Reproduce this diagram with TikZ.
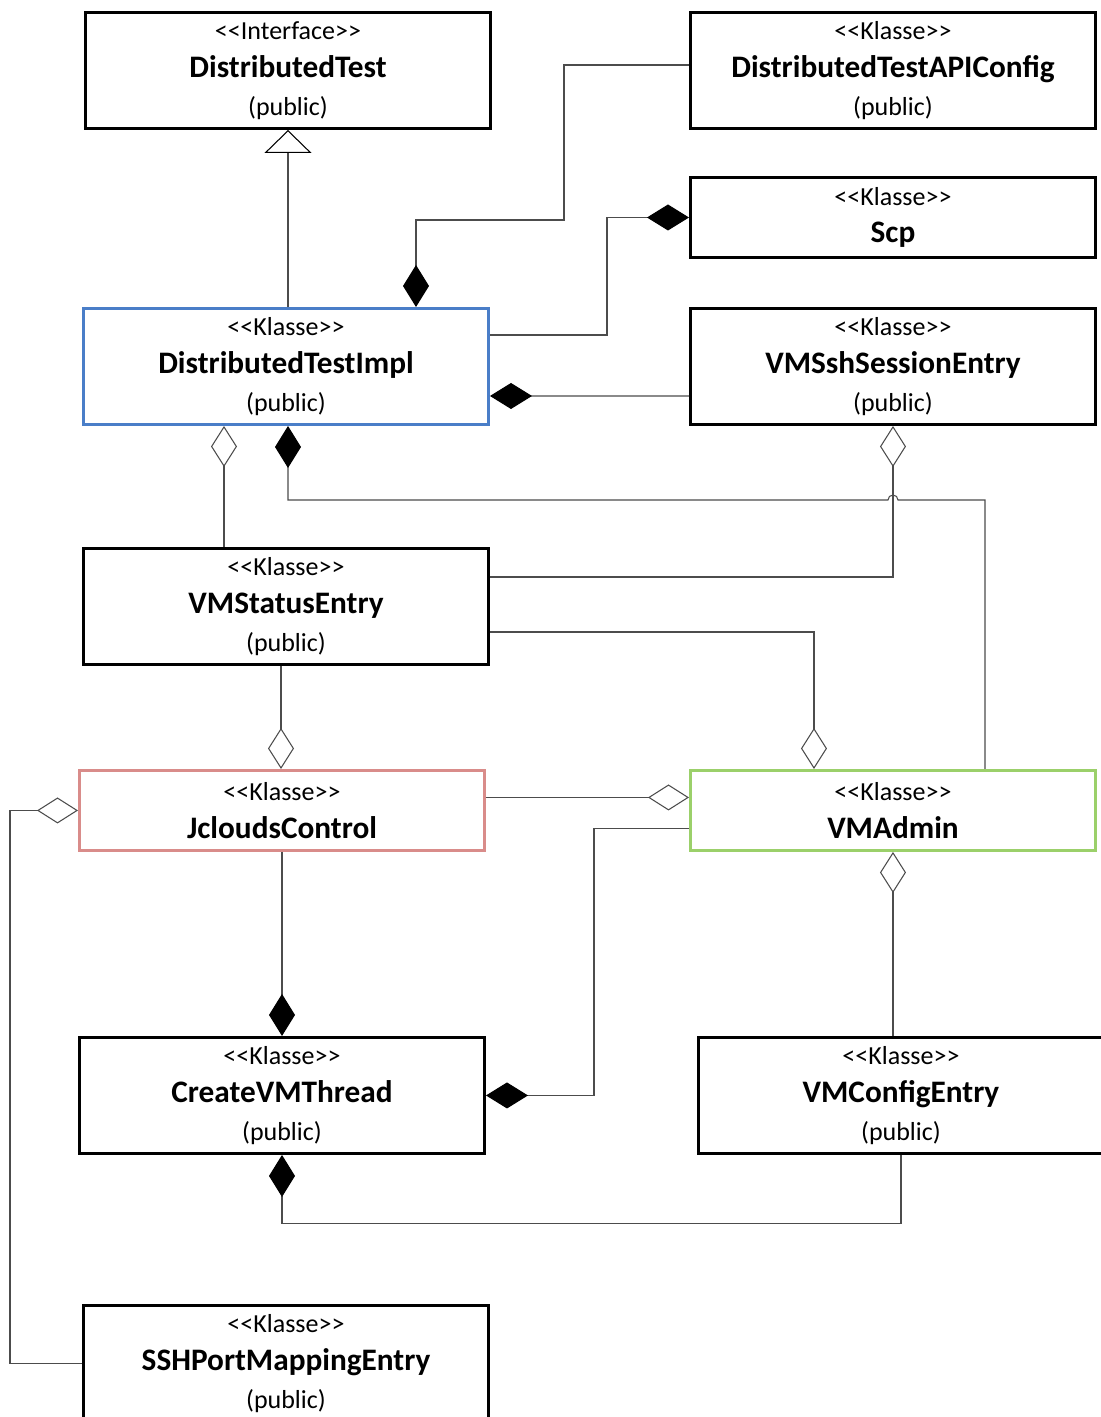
\documentclass[tikz,border=0pt]{standalone}
\usepackage{fontspec}
\newfontfamily\umlfont{Carlito}
\usepackage{tikz}
\usetikzlibrary{arrows.meta}
\usetikzlibrary{positioning}
\usetikzlibrary{calc}

\definecolor{implblue}{RGB}{74,126,200}
\definecolor{ctrlred}{RGB}{217,140,138}
\definecolor{admingreen}{RGB}{155,208,106}

\newcommand{\stereo}[1]{{\fontsize{14.8}{21.5}\selectfont <<#1>>}}
\newcommand{\cname}[1]{{\fontsize{17.8}{21.5}\selectfont\bfseries #1}}
\newcommand{\vis}{{\fontsize{14.8}{21.5}\selectfont (public)}}

\begin{document}
\begin{tikzpicture}
			\tikzstyle{cls}=[draw,line width=1.7pt,minimum width=8.1cm,minimum height=2.32cm,inner sep=0pt,align=center,font=\umlfont\fontsize{14.8}{21.5}\selectfont]
			\tikzstyle{short}=[cls,minimum height=1.6cm]
			\tikzstyle{conn}=[draw=black!70,line width=0.6pt]
			\tikzstyle{comp}=[conn,-{Diamond[length=0.84cm,width=0.52cm,color=black]}]
			\tikzstyle{agg}=[conn,-{Diamond[open,length=0.82cm,width=0.52cm,fill=white]}]
			\tikzstyle{gen}=[conn,-{Triangle[open,length=0.46cm,width=0.94cm,fill=white,color=black]}]

			\useasboundingbox (0,0) rectangle (22.02,-28.34);

			\node (dt) [cls] at (5.76,-1.41) {\stereo{Interface}\\\cname{DistributedTest}\\\vis};
			\node (api) [cls,right=3.94cm of dt] {\stereo{Klasse}\\\cname{DistributedTestAPIConfig}\\\vis};
			\node (scp) [short,below=0.92cm of api] {\stereo{Klasse}\\\cname{Scp}};
			\node (ssh) [cls,below=0.96cm of scp] {\stereo{Klasse}\\\cname{VMSshSessionEntry}\\\vis};
			\node (impl) [cls,draw=implblue,left=3.98cm of ssh] {\stereo{Klasse}\\\cname{DistributedTestImpl}\\\vis};
			\node (status) [cls,below=2.42cm of impl] {\stereo{Klasse}\\\cname{VMStatusEntry}\\\vis};
			\node (jc) [short,draw=ctrlred,below=2.06cm of status,xshift=-0.08cm] {\stereo{Klasse}\\\cname{JcloudsControl}};
			\node (vmadmin) [short,draw=admingreen,right=4.06cm of jc] {\stereo{Klasse}\\\cname{VMAdmin}};
			\node (create) [cls,below=3.68cm of jc] {\stereo{Klasse}\\\cname{CreateVMThread}\\\vis};
			\node (config) [cls,right=4.22cm of create] {\stereo{Klasse}\\\cname{VMConfigEntry}\\\vis};
			\node (sshport) [cls,below=2.98cm of create,xshift=0.08cm] {\stereo{Klasse}\\\cname{SSHPortMappingEntry}\\\vis};

			% generalisation
			\draw[gen] (impl.north -| dt.south) -- (dt.south);

			% compositions
			\draw[comp] ([yshift=0.11cm]api.west) -- ++(-2.5,0) |- ([xshift=2.6cm,yshift=1.74cm]impl.north) -- ([xshift=2.6cm]impl.north);
			\draw[comp] ([yshift=0.63cm]impl.east) -- ++(2.34,0) |- (scp.west);
			\draw[comp] ([yshift=-0.59cm]ssh.west) -- ($(ssh.west -| impl.east)+(0,-0.59)$);
			\coordinate (bend) at ([xshift=0.04cm,yshift=-1.48cm]impl.south);
			\draw[comp] ([xshift=1.84cm]vmadmin.north) |- ($(bend -| ssh.south)+(0.1,0)$)
			    arc[start angle=0,end angle=180,radius=0.1cm] -- (bend) -- (bend |- impl.south);
			\draw[comp] (jc.south) -- (create.north);
			\draw[comp] ([yshift=-0.36cm]vmadmin.west) -- ++(-1.9,0) |- (create.east);
			\draw[comp] (config.south) -- ++(0,-1.38) -| (create.south);

			% aggregations
			\draw[agg] ([xshift=-1.24cm]status.north) -- ([xshift=-1.24cm]impl.south);
			\draw[agg] ([yshift=0.59cm]status.east) -| (ssh.south);
			\draw[agg] ([yshift=-0.51cm]status.east) -| ([xshift=-1.58cm]vmadmin.north);
			\draw[agg] ([xshift=-0.1cm]status.south) -- ($(status.south |- jc.north)+(-0.1,0)$);
			\draw[agg] ($(jc.east |- vmadmin.west)+(0,0.26)$) -- ([yshift=0.26cm]vmadmin.west);
			\draw[agg] (sshport.west) -- ++(-1.44,0) |- (jc.west);
			\draw[agg] (vmadmin.south |- config.north) -- (vmadmin.south);

		\end{tikzpicture}
\end{document}
